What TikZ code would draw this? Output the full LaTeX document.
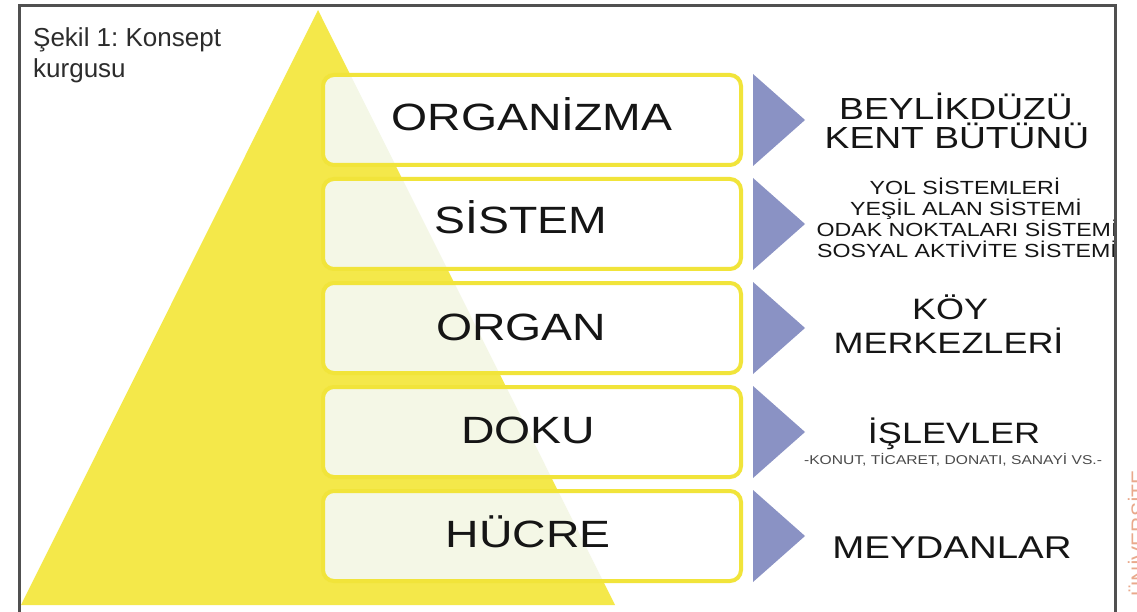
\documentclass[tikz,border=0pt]{standalone}
\usepackage{fontspec}
\setmainfont{Liberation Sans}
\newfontfamily\widefont[FakeStretch=1.22]{Liberation Sans}
\definecolor{pyr}{HTML}{F4E84A}
\definecolor{pale}{HTML}{F4F7E6}
\definecolor{boxyel}{HTML}{F1E43A}
\definecolor{tri}{HTML}{8A92C4}
\definecolor{framegray}{HTML}{505050}
\definecolor{ink}{HTML}{151515}
\definecolor{subgray}{HTML}{4A4A4A}
\definecolor{wmark}{HTML}{E9A98C}
\frenchspacing
\begin{document}
\begin{tikzpicture}[x=1pt,y=-1pt,
  boxnode/.style={rectangle,rounded corners=11pt,minimum width=418pt,minimum height=90pt,inner sep=0pt,outer sep=0pt,fill=white},
  boxline/.style={draw=boxyel,line width=4pt,rounded corners=11pt},
  lbl/.style={anchor=base,inner sep=0pt,text=ink,font=\widefont\fontsize{38}{40}\selectfont},
  rbig/.style={anchor=base,inner sep=0pt,text=ink,font=\widefont\fontsize{30.5}{32}\selectfont},
  rsmall/.style={anchor=base,inner sep=0pt,text=ink,font=\widefont\fontsize{19}{21}\selectfont},
  rtiny/.style={anchor=base,inner sep=0pt,text=subgray,font=\widefont\fontsize{12.8}{14}\selectfont},
  tribox/.style={fill=tri},
  frameline/.style={draw=framegray,line width=3pt}
]
\useasboundingbox (0,0) rectangle (1137,612);
\fill[white] (0,0) rectangle (1137,612);

% pyramid
\coordinate (apex) at (318,10);
\coordinate (bl) at (21,605);
\coordinate (br) at (615,605);
\fill[pyr] (apex) -- (bl) -- (br) -- cycle;

% boxes and triangles
\foreach \n/\yc in {1/120,2/224,3/328,4/432,5/536} {
  \node[boxnode] (box\n) at (532,\yc) {};
  \begin{scope}
    \clip[rounded corners=11pt] (box\n.north west) rectangle (box\n.south east);
    \fill[pale] (apex) -- (bl) -- (br) -- cycle;
  \end{scope}
  \draw[boxline] (box\n.north west) rectangle (box\n.south east);
  \fill[tribox] (753,\yc-46) -- (753,\yc+46) -- (805,\yc) -- cycle;
}

% box labels
\node[lbl] (l1) at (532,131) {ORGANİZMA};
\node[lbl] (l2) at (521,234) {SİSTEM};
\node[lbl] (l3) at (521,340) {ORGAN};
\node[lbl] (l4) at (528,443) {DOKU};
\node[lbl] (l5) at (528,547) {HÜCRE};

% right texts
\begin{scope}
  \clip (0,0) rectangle (1114,612);
  \node[rbig] (r1a) at (956,120) {BEYLİKDÜZÜ};
  \node[rbig] (r1b) at (957,149) {KENT BÜTÜNÜ};
  \node[rsmall] (r2a) at (965,195) {YOL SİSTEMLERİ};
  \node[rsmall] (r2b) at (966,216) {YEŞİL ALAN SİSTEMİ};
  \node[rsmall] (r2c) at (967,237) {ODAK NOKTALARI SİSTEMİ};
  \node[rsmall] (r2d) at (967,258) {SOSYAL AKTİVİTE SİSTEMİ};
  \node[rbig,font=\widefont\fontsize{29.5}{31}\selectfont] (r3a) at (950,319) {KÖY};
  \node[rbig,font=\widefont\fontsize{29.5}{31}\selectfont] (r3b) at (948.5,353) {MERKEZLERİ};
  \node[rbig,font=\widefont\fontsize{29.5}{31}\selectfont] (r4a) at (954,443) {İŞLEVLER};
  \node[rtiny] (r4b) at (953,464) {-KONUT, TİCARET, DONATI, SANAYİ VS.-};
  \node[rbig,font=\widefont\fontsize{31.5}{33}\selectfont] (r5) at (952,558) {MEYDANLAR};
\end{scope}

% caption
\node[anchor=north west,align=left,inner sep=0pt,text=ink!90,font=\fontsize{26}{31}\selectfont] (cap) at (33,27) {Şekil 1: Konsept\\kurgusu};

% watermark
\node[anchor=base east,rotate=90,inner sep=0pt,text=wmark,font=\fontsize{21}{22}\selectfont] (wm) at (1146,470) {ÜNİVERSİTE};

% frame
\draw[frameline] (19,612) -- (19,6) -- (1115,6) -- (1115,612);
\end{tikzpicture}
\end{document}
